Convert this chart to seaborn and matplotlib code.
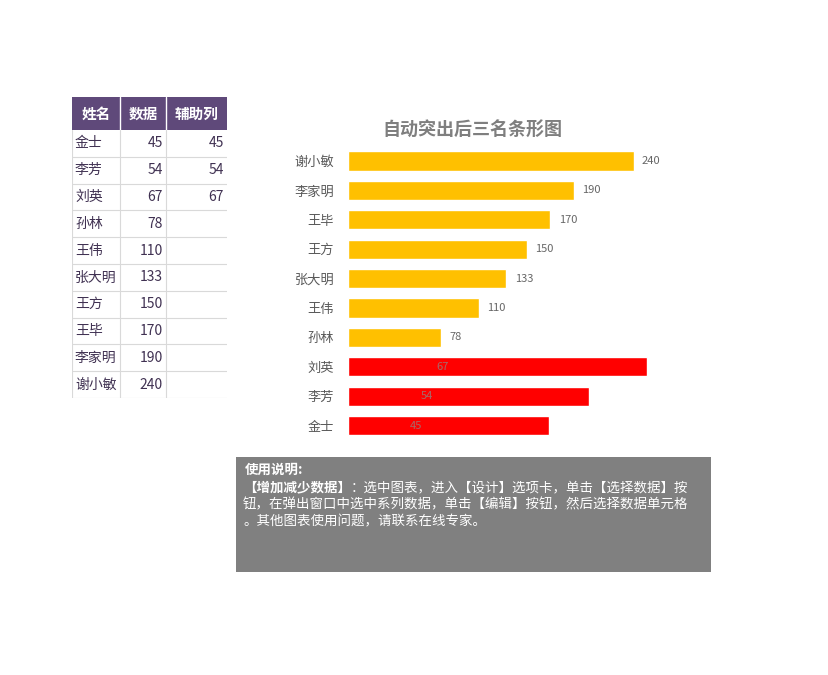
# -*- coding: utf-8 -*-
"""
Excel-style sheet: source table, bar chart highlighting the bottom three, note box
"""

import pandas as pd
import numpy as np
import seaborn as sns
import matplotlib.pyplot as plt
from matplotlib.patches import Rectangle

sns.set_style("white")
plt.rcParams['font.family'] = ['Noto Sans CJK SC', 'DejaVu Sans']

# %% data
headers = ['姓名', '数据', '辅助列']
names = ['金士', '李芳', '刘英', '孙林', '王伟', '张大明', '王方', '王毕', '李家明', '谢小敏']
values = [45, 54, 67, 78, 110, 133, 150, 170, 190, 240]
aux = [45, 54, 67]          # helper column: bottom three only
title = '自动突出后三名条形图'
note_title = '使用说明:'
note_bold = '【增加减少数据】'
note_lines = ['：选中图表，进入【设计】选项卡，单击【选择数据】按',
              '钮，在弹出窗口中选中系列数据，单击【编辑】按钮，然后选择数据单元格',
              '。其他图表使用问题，请联系在线专家。']

W, H = 829, 675
fig = plt.figure(figsize=(W / 100, H / 100), dpi=100)


def px_axes(x0, y0, x1, y1):
    return fig.add_axes([x0 / W, 1 - y1 / H, (x1 - x0) / W, (y1 - y0) / H])


# %% table
tx = [0, 48, 94, 155]
hdr_h, row_h = 33, 26.8
tab = px_axes(72, 97, 227, 398)
tab.set_xlim(0, 155)
tab.set_ylim(hdr_h + row_h * len(names), 0)
tab.axis('off')
tab.add_patch(Rectangle((0, 0), 155, hdr_h, color='#5F497A', lw=0))
for j, h in enumerate(headers):
    tab.text((tx[j] + tx[j + 1]) / 2, hdr_h / 2, h, ha='center', va='center',
             color='white', fontsize=10.5, fontweight='bold')
    if j > 0:
        tab.plot([tx[j], tx[j]], [0, hdr_h], color='white', lw=1)
        tab.plot([tx[j], tx[j]], [hdr_h, hdr_h + row_h * len(names)], color='#D9D9D9', lw=0.8)
tab.plot([0, 0], [hdr_h, hdr_h + row_h * len(names)], color='#D9D9D9', lw=0.8)
txt_c = '#403152'
for i, (n, v) in enumerate(zip(names, values)):
    yc = hdr_h + row_h * (i + 0.5)
    tab.text(3, yc, n, ha='left', va='center', color=txt_c, fontsize=10)
    tab.text(tx[2] - 3, yc, str(v), ha='right', va='center', color=txt_c, fontsize=10)
    if i < len(aux):
        tab.text(tx[3] - 3, yc, str(aux[i]), ha='right', va='center', color=txt_c, fontsize=10)
    yb = hdr_h + row_h * (i + 1)
    tab.plot([0, 155], [yb, yb], color='#D9D9D9', lw=0.8)

# %% bar chart
order = names[::-1]
df = pd.DataFrame({'name': names, 'value': values})
df_aux = pd.DataFrame({'name': names[:len(aux)], 'aux': aux})

ax = px_axes(348, 146.3, 705, 440.3)
sns.barplot(data=df, x='value', y='name', order=order, color='#FFC000',
            saturation=1, width=0.65, ax=ax)
ax.set_xlim(0, 300)

ax2 = ax.twiny()
sns.barplot(data=df_aux, x='aux', y='name', order=order, color='#FF0000',
            saturation=1, width=0.65, ax=ax2)
ax2.set_xlim(0, 80)

for a in (ax, ax2):
    a.set_xlabel('')
    a.set_ylabel('')
    a.set_xticks([])
    a.tick_params(axis='y', length=0)
    sns.despine(ax=a, left=True, bottom=True, top=True, right=True)
ax.tick_params(axis='y', pad=10, labelsize=9.5, labelcolor='#595959')

# data labels of the main series, drawn above the red helper bars
val_map = dict(zip(names, values))
for i, n in enumerate(order):
    v = val_map[n]
    ax2.annotate(str(v), xy=(v, i), xycoords=ax.transData, xytext=(6, 0),
                 textcoords='offset points', ha='left', va='center',
                 color='#666666' if v > max(aux) else '#A66A6A', fontsize=8)

fig.text(472 / W, 1 - 130 / H, title, ha='center', va='center',
         fontsize=13, fontweight='bold', color='#7F7F7F')

# %% note box
box = px_axes(236, 457, 711, 572)
box.set_xlim(0, 475)
box.set_ylim(115, 0)
box.set_facecolor('#808080')
box.set_xticks([])
box.set_yticks([])
for s in box.spines.values():
    s.set_visible(False)
fs = 9.7
box.text(9, 13, note_title, ha='left', va='center', color='white',
         fontsize=fs, fontweight='bold')
tb = box.text(7, 30, note_bold, ha='left', va='center', color='white',
              fontsize=fs, fontweight='bold')
box.annotate(note_lines[0], xy=(1, 0.5), xycoords=tb, ha='left', va='center',
             color='white', fontsize=fs)
for k, line in enumerate(note_lines[1:]):
    box.text(7, 47 + 17 * k, line, ha='left', va='center', color='white', fontsize=fs)

fig.savefig('out.png', dpi=100)
